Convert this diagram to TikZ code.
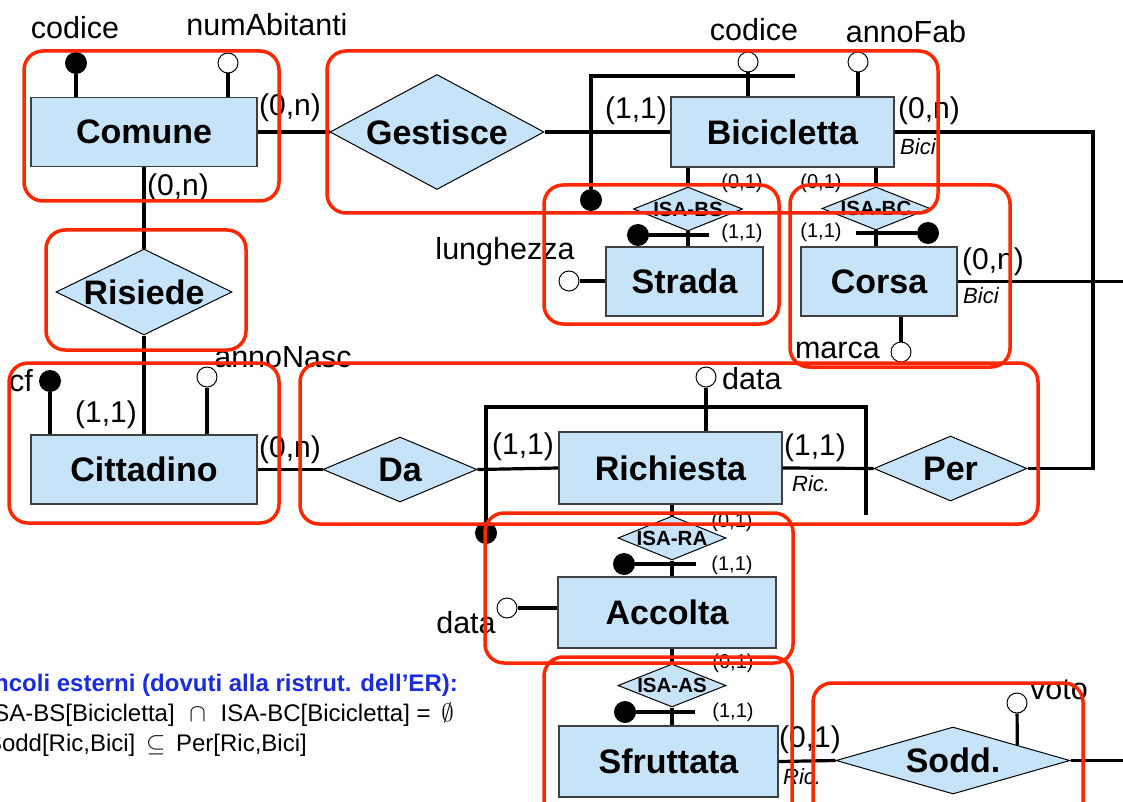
\documentclass[tikz,border=0pt]{standalone}
\usepackage{fontspec}
\setmainfont{Liberation Sans}
\usepackage{tikz}
\usetikzlibrary{shapes.geometric,calc}
\newcommand{\fsz}[1]{\fontsize{#1pt}{#1pt}\selectfont}
\definecolor{entblue}{RGB}{198,227,248}
\definecolor{boxred}{RGB}{255,38,0}
\definecolor{notablue}{RGB}{25,45,220}
\tikzset{
  entity/.style={draw=black!75,line width=1.2pt,fill=entblue,inner sep=0pt,
                 font=\fsz{34}\bfseries},
  relation/.style={diamond,draw=black,line width=1pt,fill=entblue,inner sep=0pt,
                   font=\fsz{34}\bfseries},
  isarel/.style={relation,font=\fsz{20.5}\bfseries},
  link/.style={black,line width=3.2pt},
  keydot/.style={circle,fill=black,minimum size=22pt,inner sep=0pt},
  opendot/.style={circle,draw=black,line width=1pt,fill=white,minimum size=20pt,inner sep=0pt},
  attrlab/.style={font=\fsz{30.5},inner sep=0pt},
  card/.style={font=\fsz{30},inner sep=0pt},
  smallcard/.style={font=\fsz{20},inner sep=0pt},
  role/.style={font=\fsz{22}\itshape,inner sep=0pt,anchor=west},
  note/.style={font=\fsz{24},inner sep=0pt,anchor=base east},
  groupbox/.style={draw=boxred,line width=3.5pt,rounded corners=19pt},
}

\begin{document}
\begin{tikzpicture}[x=1pt,y=-1pt]
  \useasboundingbox (0,0) rectangle (1123,802);
  \clip (0,0) rectangle (1123,802);

  \node[entity,minimum width=226pt,minimum height=69pt] (comune) at (144,132) {Comune};
  \node[entity,minimum width=223pt,minimum height=70pt] (bici) at (782.5,132) {Bicicletta};
  \node[entity,minimum width=157pt,minimum height=69pt] (strada) at (684.5,281.5) {Strada};
  \node[entity,minimum width=156pt,minimum height=69pt] (corsa) at (879,281.5) {Corsa};
  \node[entity,minimum width=226pt,minimum height=69pt] (citt) at (144,469.5) {Cittadino};
  \node[entity,minimum width=223pt,minimum height=72pt] (rich) at (670.5,468) {Richiesta};
  \node[entity,minimum width=218pt,minimum height=71pt] (accolta) at (667,612.5) {Accolta};
  \node[entity,minimum width=219pt,minimum height=71pt] (sfrutt) at (668.5,761.5) {Sfruttata};

  \node[relation,minimum width=214pt,minimum height=115pt,aspect=1.86] (gest) at (437,132) {Gestisce};
  \node[relation,minimum width=176pt,minimum height=86pt,aspect=2.05] (ris) at (144,292) {Risiede};
  \node[relation,minimum width=154pt,minimum height=65pt,aspect=2.37] (da) at (400,469.5) {Da};
  \node[relation,minimum width=153pt,minimum height=65pt,aspect=2.35] (per) at (950.5,468.5) {Per};
  \node[relation,minimum width=234pt,minimum height=67pt,aspect=3.5] (sodd) at (953,760.5) {Sodd.};
  \node[isarel,minimum width=109pt,minimum height=44pt,aspect=2.48] (isabs) at (688,209) {ISA-BS};
  \node[isarel,minimum width=108pt,minimum height=43pt,aspect=2.51] (isabc) at (876,208.5) {ISA-BC};
  \node[isarel,minimum width=108pt,minimum height=44pt,aspect=2.45] (isara) at (672,538) {ISA-RA};
  \node[isarel,minimum width=108pt,minimum height=43pt,aspect=2.51] (isaas) at (672,685.5) {ISA-AS};

  \node[keydot] (kcod1) at (76,63) {};
  \node[opendot] (anum) at (228,63) {};
  \node[opendot] (acod2) at (748,62) {};
  \node[opendot] (aanno) at (858,62) {};
  \node[keydot] (kgest) at (591,200) {};
  \node[opendot] (alung) at (569,281) {};
  \node[keydot] (kbs) at (638,235) {};
  \node[keydot] (kbc) at (928,233) {};
  \node[opendot] (amarca) at (901,352) {};
  \node[keydot] (kcf) at (50,381) {};
  \node[opendot] (anasc) at (207,377) {};
  \node[opendot] (adata) at (706,377) {};
  \node[keydot] (kda) at (486,533) {};
  \node[keydot] (kra) at (624,564) {};
  \node[opendot] (aacc) at (507,608) {};
  \node[keydot] (kas) at (625,712) {};
  \node[opendot] (avoto) at (1017,703) {};

  \coordinate (bar1) at (591,76);
  \coordinate (bar2) at (795,76);
  \coordinate (bar3) at (486,407);
  \coordinate (bar4) at (866,407);
  \coordinate (bar5) at (866,515);
  \coordinate (rt1) at (1093,132);
  \coordinate (rt2) at (1093,468.5);
  \coordinate (edge1) at (1126,281.5);
  \coordinate (edge2) at (1126,760.5);
  \coordinate (ebs) at (709,235);
  \coordinate (ebc) at (856,233);
  \coordinate (era) at (696,564);
  \coordinate (eas) at (695,712);

  \draw[link] (comune.east) -- (gest.west);
  \draw[link] (gest.east) -- (bici.west);
  \draw[link] (comune.south) -- (ris.north);
  \draw[link] (ris.south) -- (citt.north);
  \draw[link] (citt.east) -- (da.west);
  \draw[link] (da.east) -- (rich.west);
  \draw[link] (rich.east) -- (per.west);
  \draw[link] (bici.east) -- (rt1) -- (rt2) -- (per.east);
  \draw[link] (corsa.east) -- (edge1);
  \draw[link] (sfrutt.east) -- (sodd.west);
  \draw[link] (sodd.east) -- (edge2);
  \draw[link] (kgest) -- (bar1) -- (bar2);
  \draw[link] (kda) -- (bar3) -- (bar4) -- (bar5);
  \draw[link] (isabs.north) -- (isabs.north |- bici.south);
  \draw[link] (isabs.south) -- (isabs.south |- strada.north);
  \draw[link] (isabc.north) -- (isabc.north |- bici.south);
  \draw[link] (isabc.south) -- (isabc.south |- corsa.north);
  \draw[link] (isara.north) -- (isara.north |- rich.south);
  \draw[link] (isara.south) -- (isara.south |- accolta.north);
  \draw[link] (isaas.north) -- (isaas.north |- accolta.south);
  \draw[link] (isaas.south) -- (isaas.south |- sfrutt.north);
  \draw[link] (kbs) -- (ebs);
  \draw[link] (kbc) -- (ebc);
  \draw[link] (kra) -- (era);
  \draw[link] (kas) -- (eas);
  \foreach \a/\e in {kcod1/comune,anum/comune,acod2/bici,aanno/bici,kcf/citt,anasc/citt,adata/rich}
    \draw[link] (\a) -- (\a |- \e.north);
  \draw[link] (amarca) -- (amarca |- corsa.south);
  \draw[link] (alung) -- (alung -| strada.west);
  \draw[link] (aacc) -- (aacc -| accolta.west);
  \draw[link] (avoto) -- ($(sodd.north)!0.547!(sodd.east)$);

  \node[attrlab] (lcod1) at (75,28) {codice};
  \node[attrlab] (lnum) at (267,25) {numAbitanti};
  \node[attrlab] (lcod2) at (754,30) {codice};
  \node[attrlab] (lanno) at (906,32) {annoFab};
  \node[attrlab] (llung) at (505,252) {lunghezza};
  \node[attrlab,anchor=east] (lmarca) at (880,350) {marca};
  \node[attrlab] (lcf) at (21,381) {cf};
  \node[attrlab] (lnasc) at (283,357) {annoNasc};
  \node[attrlab,anchor=west] (ldata1) at (722,379) {data};
  \node[attrlab] (ldata2) at (466,623) {data};
  \node[attrlab,anchor=west] (lvoto) at (1030,690) {voto};

  \node[card] at (290,108) {(0,n)};
  \node[card] at (178,188) {(0,n)};
  \node[card] at (636,111) {(1,1)};
  \node[card] at (929,111) {(0,n)};
  \node[card] at (993,262) {(0,n)};
  \node[card] at (106,415) {(1,1)};
  \node[card] at (290,450) {(0,n)};
  \node[card] at (523,447) {(1,1)};
  \node[card] at (815,448) {(1,1)};
  \node[card] at (810,740) {(0,1)};
  \foreach \xx/\yy/\c in {742/183/{(0,1)}, 742/233/{(1,1)}, 821/183/{(0,1)}, 821/232/{(1,1)},
                          732/522/{(0,1)}, 732/565/{(1,1)}, 733/663/{(0,1)}, 733/712/{(1,1)}}
    \node[smallcard] at (\xx,\yy) {\c};
  \node[role] at (900,147) {Bici};
  \node[role] at (963,296) {Bici};
  \node[role] at (792,484) {Ric.};
  \node[role] at (783,777) {Ric.};

  \node[note,text=notablue,font=\fsz{24}\bfseries] (vinc) at (458,691)
    {Vincoli esterni (dovuti alla ristrut. dell’ER):};
  \node[note] (vinc1) at (454,721)
    {ISA-BS[Bicicletta]\,\, $\cap$\,\, ISA-BC[Bicicletta] = \,$\emptyset$};
  \node[note] (vinc2) at (307,751)
    {Sodd[Ric,Bici]\, $\subseteq$\, Per[Ric,Bici]};

  \foreach \a/\b/\c/\d in {24/51/279/201, 327/51/938/213, 46/230/246/350,
                           544/185/779/324, 790/185/1010/367, 9/363/279/523,
                           300/363/1038/524, 485/513/793/663, 544/657/792/830,
                           813/683/1083/830}
    \draw[groupbox] (\a,\b) rectangle (\c,\d);
\end{tikzpicture}
\end{document}
